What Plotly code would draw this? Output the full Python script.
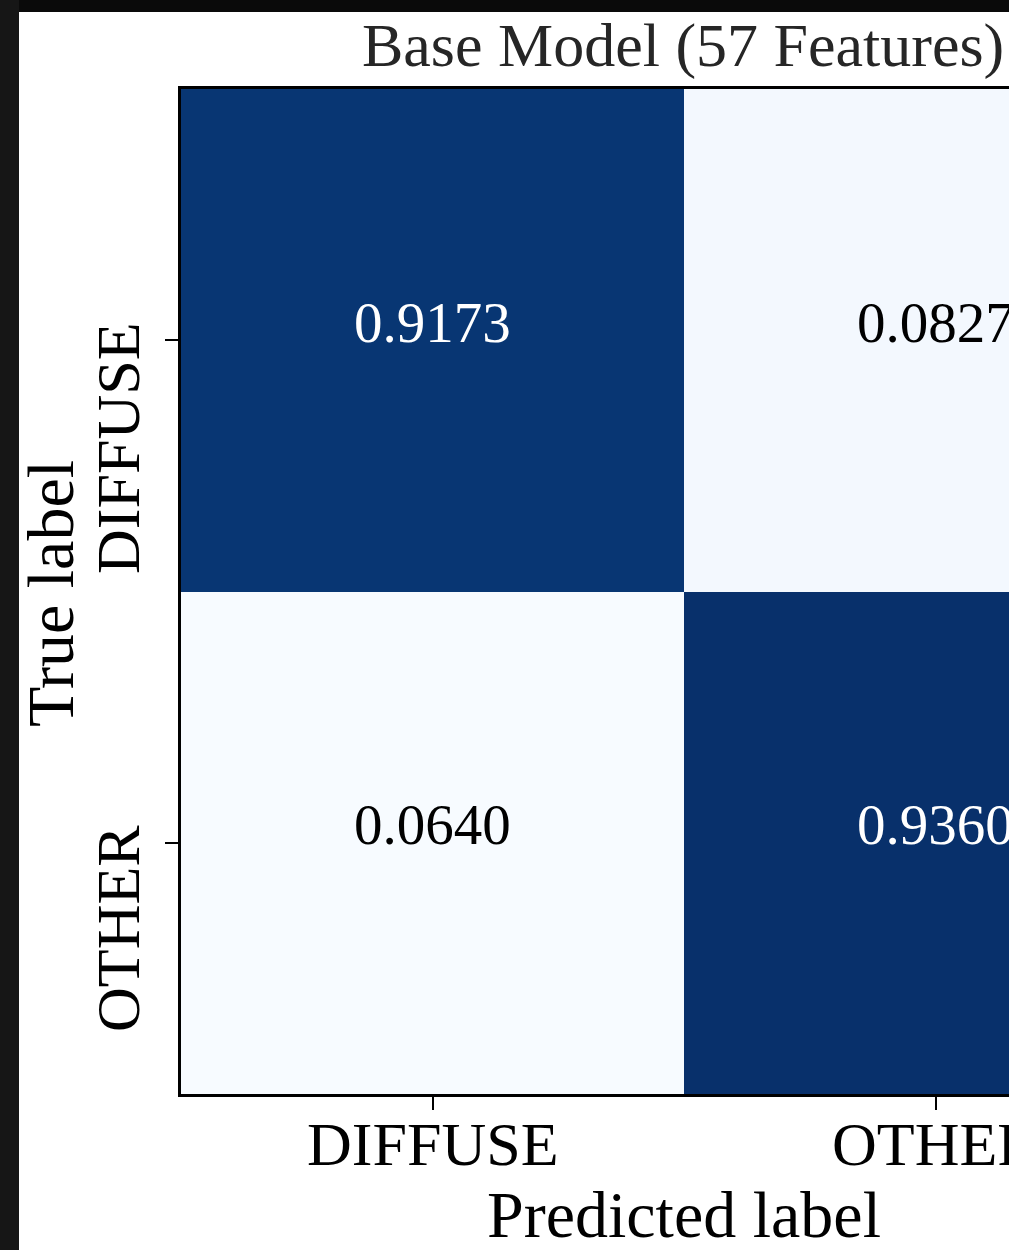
import plotly.graph_objects as go
import plotly.colors as pc

# Normalized confusion matrix (rows: true label, columns: predicted label)
class_names = ["DIFFUSE", "OTHER"]
matrix = [
    [0.9173, 0.0827],
    [0.0640, 0.9360],
]
title_text = "Base Model (57 Features)"
x_title = "Predicted label"
y_title = "True label"

W, H = 1009, 1250
L, T, B = 181, 89, 156          # plot area margins in px
PW = W - L                      # plot width
PH = H - T - B                  # plot height
CELL = 503                      # px per cell horizontally

def px_x(px):
    return (px - L) / PW

def px_y(py):
    return (H - B - py) / PH

zmin = min(min(r) for r in matrix)
zmax = max(max(r) for r in matrix)
mid = (zmin + zmax) / 2
FONT = "Liberation Serif, Times New Roman, serif"

fig = go.Figure(
    go.Heatmap(
        z=matrix,
        x=list(range(len(class_names))),
        y=list(range(len(class_names))),
        colorscale=pc.sequential.Blues,
        zmin=zmin,
        zmax=zmax,
        showscale=False,
        hoverinfo="skip",
    )
)

# cell values
for i, row in enumerate(matrix):
    for j, v in enumerate(row):
        fig.add_annotation(
            x=j, y=i, xref="x", yref="y",
            text=f"{v:.4f}", showarrow=False,
            xanchor="center", yanchor="middle", yshift=18,
            font=dict(family=FONT, size=57,
                      color="white" if v > mid else "black"),
        )

# x tick labels (below the tick marks)
for j, name in enumerate(class_names):
    fig.add_annotation(
        x=j, y=px_y(1144), xref="x", yref="paper",
        text=name, showarrow=False,
        xanchor="center", yanchor="middle",
        font=dict(family=FONT, size=62, color="black"),
    )

# rotated y tick labels
ytick_centers = [448, 929]
for name, cy in zip(class_names, ytick_centers):
    fig.add_annotation(
        x=px_x(118), y=px_y(cy), xref="paper", yref="paper",
        text=name, showarrow=False, textangle=-90,
        xanchor="center", yanchor="middle",
        font=dict(family=FONT, size=62, color="black"),
    )

# axis titles
fig.add_annotation(
    x=px_x(684), y=px_y(1214), xref="paper", yref="paper",
    text=x_title, showarrow=False, xanchor="center", yanchor="middle",
    font=dict(family=FONT, size=66, color="black"),
)
fig.add_annotation(
    x=px_x(50), y=px_y(594), xref="paper", yref="paper",
    text=y_title, showarrow=False, textangle=-90,
    xanchor="center", yanchor="middle",
    font=dict(family=FONT, size=66, color="black"),
)
# title
fig.add_annotation(
    x=px_x(683), y=px_y(45), xref="paper", yref="paper",
    text=title_text, showarrow=False, xanchor="center", yanchor="middle",
    font=dict(family=FONT, size=62, color="#262626"),
)

# white page panel over the dark surround
fig.add_shape(type="rect", xref="paper", yref="paper",
              x0=px_x(19), x1=px_x(W + 20), y0=px_y(H + 20), y1=px_y(12),
              fillcolor="white", line_width=0, layer="below")
fig.add_shape(type="rect", xref="paper", yref="paper",
              x0=px_x(-5), x1=px_x(19), y0=px_y(H + 20), y1=px_y(-5),
              fillcolor="#161616", line_width=0, layer="below")

fig.update_layout(
    width=W, height=H,
    margin=dict(l=L, r=0, t=T, b=B, pad=0),
    paper_bgcolor="#0a0a0a",
    plot_bgcolor="white",
    showlegend=False,
    xaxis=dict(
        range=[-0.5, -0.5 + PW / CELL],
        tickmode="array",
        tickvals=list(range(len(class_names))),
        showticklabels=False,
        ticks="outside", ticklen=13, tickwidth=2, tickcolor="black",
        showline=True, linecolor="black", linewidth=3, mirror=True,
        showgrid=False, zeroline=False, fixedrange=True,
    ),
    yaxis=dict(
        range=[1.5, -0.5],
        tickmode="array",
        tickvals=list(range(len(class_names))),
        showticklabels=False,
        ticks="outside", ticklen=13, tickwidth=2, tickcolor="black",
        showline=True, linecolor="black", linewidth=3, mirror=False,
        showgrid=False, zeroline=False, fixedrange=True,
    ),
)

fig.write_html("out.html", config={"displayModeBar": False})
